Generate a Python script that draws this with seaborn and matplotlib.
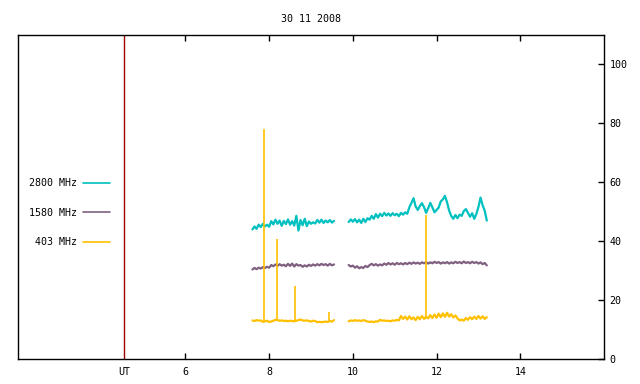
import numpy as np
import pandas as pd
import matplotlib
matplotlib.use('Agg')
from matplotlib import pyplot as plt
import seaborn as sns

# sample times in UT hours, two recording blocks
t_seg1 = np.round(np.arange(7.60, 9.551, 0.05), 2)
t_seg2 = np.round(np.arange(9.90, 13.201, 0.05), 2)

flux_2800_seg1 = [44.0, 45.0, 44.2, 45.6, 44.8, 45.9, 45.0, 45.6, 44.9, 46.8,
                  45.7, 47.3, 45.9, 47.0, 45.2, 46.9, 45.8, 47.4, 45.6, 46.8,
                  45.3, 48.6, 43.6, 47.2, 45.4, 47.6, 45.1, 46.7, 45.9, 46.4,
                  46.0, 47.2, 46.3, 47.3, 46.2, 47.0, 46.4, 47.2, 46.3, 46.9]
flux_2800_seg2 = [46.5, 47.4,
                  46.6, 47.5, 46.4, 47.3, 46.2, 47.6, 46.5, 47.8, 47.3, 48.6,
                  47.6, 49.2, 48.0, 49.3, 48.5, 49.6, 48.7, 49.4, 48.6, 49.5,
                  48.8, 49.3, 48.5, 49.6, 49.0, 49.8, 49.3, 51.5, 53.0, 54.6,
                  51.8, 50.6, 51.9, 52.9, 51.6, 49.6, 51.2, 53.0, 51.5, 49.8,
                  50.6, 51.4, 53.5, 54.2, 55.4, 53.2, 50.4, 48.6, 47.6, 48.9,
                  47.8, 49.0, 48.6, 50.2, 50.9, 49.6, 48.3, 49.5, 47.6, 49.2,
                  51.6, 54.8, 52.2, 50.4, 47.0]

flux_1580_seg1 = [30.4, 30.9, 30.5, 31.0, 30.7, 31.2, 30.9, 31.3, 31.0, 31.9,
                  31.5, 32.1, 31.6, 32.2, 31.7, 32.0, 31.5, 32.3, 31.6, 32.4,
                  31.4, 32.2, 31.7, 31.9, 31.3, 31.8, 31.4, 32.0, 31.6, 32.1,
                  31.7, 32.2, 31.8, 32.3, 31.9, 32.2, 31.7, 32.3, 31.8, 32.1]
flux_1580_seg2 = [31.9, 31.4,
                  31.7, 31.0, 31.5, 30.8, 31.2, 30.9, 31.6, 31.2, 31.9, 32.3,
                  31.8, 32.2, 31.7, 32.1, 31.8, 32.4, 32.0, 32.6, 32.1, 32.5,
                  32.0, 32.6, 32.2, 32.5, 32.1, 32.6, 32.2, 32.7, 32.3, 32.8,
                  32.4, 32.7, 32.3, 32.8, 32.5, 32.9, 32.4, 32.8, 32.5, 33.0,
                  32.6, 32.9, 32.4, 32.8, 32.5, 32.9, 32.4, 32.8, 32.5, 33.0,
                  32.6, 32.9, 32.5, 33.1, 32.6, 32.9, 32.5, 33.0, 32.6, 32.9,
                  32.4, 32.8, 32.2, 32.6, 31.8]

flux_403_seg1 = [13.1, 12.9, 13.2, 13.0, 13.1, 12.6, 12.8, 13.0, 12.6, 12.7,
                 13.0, 13.3, 13.2, 13.0, 13.1, 12.9, 13.0, 12.8, 13.0, 12.9,
                 12.8, 13.0, 13.2, 13.4, 13.1, 13.0, 13.1, 12.9, 12.7, 13.0,
                 12.9, 12.5, 12.6, 12.5, 12.6, 12.7, 12.6, 12.9, 12.7, 13.2]
flux_403_seg2 = [12.8, 13.1,
                 12.9, 13.2, 13.0, 13.1, 12.9, 13.2, 13.0, 12.7, 12.6, 12.7,
                 12.5, 12.8, 12.7, 13.3, 13.0, 13.1, 12.9, 13.0, 12.8, 13.1,
                 13.0, 13.3, 13.1, 14.6, 13.6, 14.4, 13.4, 14.5, 13.5, 14.1,
                 13.2, 14.3, 13.5, 14.6, 13.6, 14.4, 13.8, 14.9, 13.9, 15.1,
                 14.0, 15.4, 14.2, 15.5, 14.3, 15.7, 14.4, 15.2, 14.1, 14.8,
                 13.8, 13.1, 13.4, 13.0, 13.9, 13.3, 14.2, 13.5, 14.4, 13.6,
                 14.6, 13.7, 14.5, 13.6, 14.2]

# short bursts on 403 MHz
spike_ut = [7.88, 8.19, 8.62, 9.44, 11.75]
spike_base = [13.0, 13.1, 12.9, 12.6, 13.6]
spike_top = [78.2, 40.9, 24.7, 15.9, 48.8]

ut_marker = 4.53
bands = ['2800 MHz', '1580 MHz', '403 MHz']
colors = ['#00c0c0', '#806080', '#ffc000']

frames = []
for band, s1, s2 in zip(bands,
                        [flux_2800_seg1, flux_1580_seg1, flux_403_seg1],
                        [flux_2800_seg2, flux_1580_seg2, flux_403_seg2]):
    frames.append(pd.DataFrame({'ut': t_seg1, 'flux': s1, 'band': band, 'seg': 1}))
    frames.append(pd.DataFrame({'ut': t_seg2, 'flux': s2, 'band': band, 'seg': 2}))
df = pd.concat(frames, ignore_index=True)

sns.set_style('white')
plt.rcParams['font.family'] = ['DejaVu Sans Mono', 'DejaVu Sans']
plt.rcParams['text.color'] = 'black'
plt.rcParams['xtick.color'] = 'black'
plt.rcParams['ytick.color'] = 'black'

fig = plt.figure(figsize=(6.4, 3.84), dpi=100)
ax = fig.add_axes([18 / 640, 1 - 359 / 384, 586 / 640, 324 / 384])

sns.lineplot(data=df, x='ut', y='flux', hue='band', hue_order=bands,
             palette=colors, units='seg', estimator=None, linewidth=1.6, ax=ax)
ax.vlines(spike_ut, spike_base, spike_top, color=colors[2], linewidth=1.2)
ax.axvline(ut_marker, color='#a00000', linewidth=1)

ax.set_xlim(2, 16)
ax.set_ylim(0, 110)
ax.set_xticks([6, 8, 10, 12, 14])
ax.set_xticks([ut_marker], ['UT'], minor=True)
ax.set_yticks([0, 20, 40, 60, 80, 100])
ax.yaxis.tick_right()
ax.tick_params(axis='x', which='major', direction='in', length=4, width=1,
               top=True, bottom=True, labelsize=7.2, pad=6)
ax.tick_params(axis='x', which='minor', length=0, labelsize=7.2, pad=6)
ax.tick_params(axis='y', direction='in', length=4, width=1, left=False,
               right=True, labelsize=7.2, pad=4)
ax.set_xlabel('')
ax.set_ylabel('')
for sp in ax.spines.values():
    sp.set_color('black')
    sp.set_linewidth(1)

ax.set_title('30 11 2008', fontsize=7.2, pad=9, color='black')

handles, labels = ax.get_legend_handles_labels()
for h in handles:
    h.set_linewidth(1.2)
ax.legend(handles, labels, loc='center right', bbox_to_anchor=(0.157, 0.451),
          frameon=False, markerfirst=False, borderpad=0, borderaxespad=0,
          handlelength=2.7, handletextpad=0.6, labelspacing=1.95,
          fontsize=7.2, title=None, labelcolor='black')

plt.savefig('out.png', dpi=100)
